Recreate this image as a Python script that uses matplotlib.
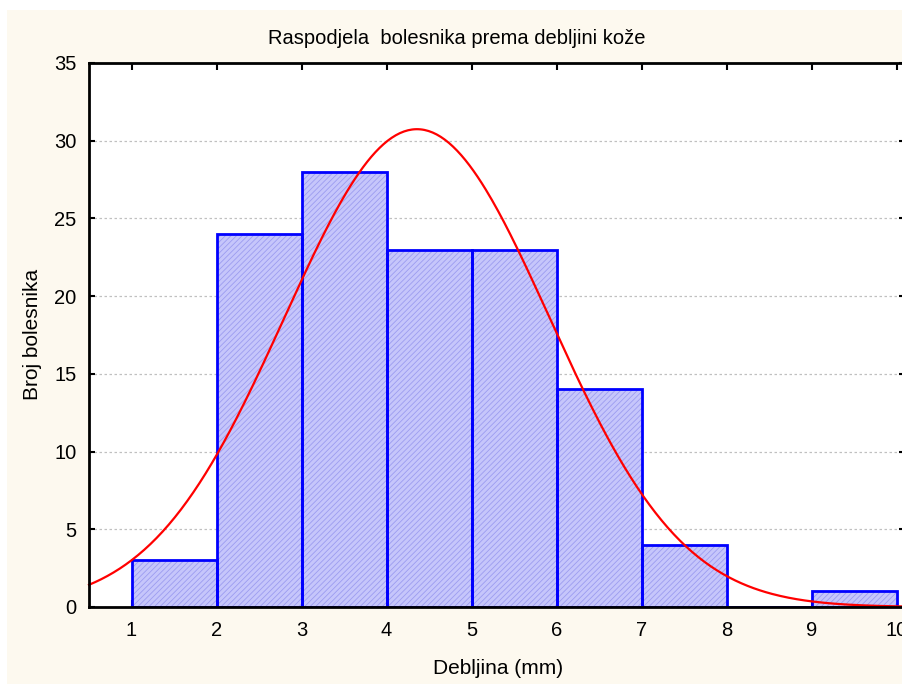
import numpy as np
import matplotlib

matplotlib.use("Agg")
import matplotlib.pyplot as plt
from matplotlib.patches import Rectangle

plt.rcParams["font.family"] = ["Liberation Sans", "DejaVu Sans"]
plt.rcParams["hatch.linewidth"] = 0.6

# Histogram of skin thickness (mm): bin left edges and patient counts
bin_left = [1, 2, 3, 4, 5, 6, 7, 8, 9]
counts = [3, 24, 28, 23, 23, 14, 4, 0, 1]
bin_width = 1.0

title = "Raspodjela  bolesnika prema debljini kože"
x_label = "Debljina (mm)"
y_label = "Broj bolesnika"
x_ticks = [1, 2, 3, 4, 5, 6, 7, 8, 9, 10]
y_ticks = [0, 5, 10, 15, 20, 25, 30, 35]

# expected normal curve, fitted to the binned data
mids = np.array(bin_left) + bin_width / 2
n = np.array(counts, dtype=float)
total = n.sum()
mean = (mids * n).sum() / total
sd = np.sqrt(((mids - mean) ** 2 * n).sum() / (total - 1))
xs = np.linspace(0.5, 10.1, 400)
curve = total * bin_width / (sd * np.sqrt(2 * np.pi)) * np.exp(-0.5 * ((xs - mean) / sd) ** 2)

W, H = 902, 684
fig = plt.figure(figsize=(W / 100, H / 100), dpi=100, facecolor="white")
fig.patches.append(
    Rectangle((7 / W, 0), 1, 1 - 10 / H, transform=fig.transFigure,
              facecolor="#fdf9ef", edgecolor="none", zorder=-10)
)

left, right, top, bottom = 89, 905, 63, 607
ax = fig.add_axes([left / W, 1 - bottom / H, (right - left) / W, (bottom - top) / H])
ax.set_facecolor("white")

# hatched fill first, then the solid blue outlines on top
ax.bar(bin_left, counts, width=bin_width, align="edge", facecolor="#c6c6fb",
       edgecolor="#9c9cf0", hatch="//////", linewidth=0, zorder=2)
ax.bar(bin_left, counts, width=bin_width, align="edge", facecolor="none",
       edgecolor="#0000ff", linewidth=2, zorder=3)
ax.plot(xs, curve, color="#ff0000", lw=1.6, zorder=4, clip_on=False)

ax.set_xlim(0.5, 10.1)
ax.set_ylim(0, 35)
ax.set_xticks(x_ticks)
ax.set_yticks(y_ticks)
ax.yaxis.grid(True, color="#c0c0c0", ls=(0, (2, 2)), lw=0.9, zorder=0)
ax.set_axisbelow(True)
ax.tick_params(axis="x", direction="in", length=5, width=1.5, top=True,
               labelsize=14.5, pad=10)
ax.tick_params(axis="y", direction="in", length=4, width=1.5, right=True,
               labelsize=14.5, pad=9)
for spine in ax.spines.values():
    spine.set_linewidth(2)
    spine.set_zorder(5)

fig.text(457 / W, 1 - 38 / H, title, ha="center", va="center", fontsize=14.5)
fig.text(498 / W, 1 - 668 / H, x_label, ha="center", va="center", fontsize=15)
fig.text(32 / W, 1 - 334 / H, y_label, ha="center", va="center", fontsize=15,
         rotation=90)

fig.savefig("out.png", dpi=100, facecolor=fig.get_facecolor())
